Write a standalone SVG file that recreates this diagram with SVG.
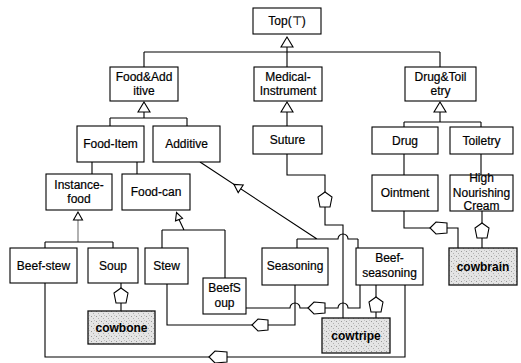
<svg xmlns="http://www.w3.org/2000/svg" width="521" height="363" viewBox="0 0 521 363">
<defs>
<pattern id="stip" width="5" height="5" patternUnits="userSpaceOnUse">
<rect width="5" height="5" fill="#e4e4e4"/>
<rect x="1" y="1" width="1" height="1" fill="#9a9a9a"/>
<rect x="3" y="3" width="1" height="1" fill="#b0b0b0"/>
<rect x="4" y="0" width="1" height="1" fill="#c4c4c4"/>
</pattern>
</defs>
<style>
.box{fill:#fff;stroke:#000;stroke-width:1.1}
.obj{fill:url(#stip);stroke:#111;stroke-width:1.3}
.t{font-family:"Liberation Sans",Arial,sans-serif;font-size:12px;fill:#000;stroke:#000;stroke-width:0.2;text-anchor:middle}
.tb{font-family:"Liberation Sans",Arial,sans-serif;font-size:12px;font-weight:bold;fill:#000;text-anchor:middle}
.ln{fill:none;stroke:#000;stroke-width:1.1}
.gl{fill:none;stroke:#888;stroke-width:1.3}
.tri{fill:#fff;stroke:#000;stroke-width:1.1}
.pen{fill:#fff;stroke:#000;stroke-width:1.1}
</style>
<rect width="521" height="363" fill="#fff"/>
<g id="connectors">
  <path class="ln" d="M287,47 V52 M144,52 H440 M144,52 V67 M287,52 V67 M440,52 V67"/>
  <path class="ln" d="M144,112 V118 M110,118 H187 M110,118 V126 M187,118 V126"/>
  <path class="ln" d="M287,112 V126"/>
  <path class="ln" d="M440,112 V122 M404,122 H481 M404,122 V127 M481,122 V127"/>
  <path class="ln" d="M92,162 V174 M137,162 V174"/>
  <path class="ln" d="M404,154 V175 M481,154 V175"/>
  <path class="gl" d="M78,220 V242"/>
  <path class="ln" d="M45,242 H113 M45,242 V248 M113,242 V248"/>
  <path class="ln" d="M179,219.5 L184,230 M162,230 H225 M162,230 V248 M225,230 V278"/>
  <path class="ln" d="M200,162 L317,239 M297,239 H338 A5,5 0 0 1 348,239 H358 M297,239 V248 M358,239 V248"/>
  <path class="ln" d="M287,154 V175 H325 V192 M325,207 V225 H343 V318"/>
  <path class="ln" d="M246,308 H290 A5,5 0 0 1 300,308 H308 M325,308 H338 A5,5 0 0 1 348,308 H360 V285"/>
  <path class="ln" d="M167,284 V325 H252 M268,325 H295 V285"/>
  <path class="ln" d="M376,285 V297 M376,312 V318"/>
  <path class="ln" d="M45,283 V357 H209 M227,357 H405 V285"/>
  <path class="ln" d="M121,283 V288 M121,303 V311"/>
  <path class="ln" d="M404,211 V228 H430 M447,228 H458 V248"/>
  <path class="ln" d="M482,211 V223 M482,238 V248"/>
  <polygon class="tri" points="287,37 281,47 293,47"/>
  <polygon class="tri" points="144,102 138,112 150,112"/>
  <polygon class="tri" points="287,102 281,112 293,112"/>
  <polygon class="tri" points="440,102 434,112 446,112"/>
  <polygon class="tri" points="78,212 73.5,220 82.5,220"/>
  <polygon class="tri" points="176.5,212.5 175.5,220.8 182.5,218.2"/>
  <polygon class="tri" points="234,184.4 238.2,192.6 243.2,185"/>
  <polygon class="pen" points="325,192 332,197 330,207 320,207 318,197"/>
  <polygon class="pen" points="121,288 128,293 126,303 116,303 114,293"/>
  <polygon class="pen" points="376,297 383,302 381,312 371,312 369,302"/>
  <polygon class="pen" points="482,223 489,228 487,238 477,238 475,228"/>
  <polygon class="pen" points="308,308 314,302 325,303 325,313 314,314"/>
  <polygon class="pen" points="252,325 258,319 268,320 268,330 258,331"/>
  <polygon class="pen" points="209,357 215,351 227,352 227,362 215,363"/>
  <polygon class="pen" points="430,228 436,222 447,223 447,233 436,234"/>
</g>
<g id="top"><rect class="box" x="253" y="8" width="68" height="26"/><text class="t" x="287" y="25">Top(⊤)</text></g>
<g id="food-additive"><rect class="box" x="110" y="67" width="68" height="34"/><text class="t" x="144" y="81">Food&amp;Add</text><text class="t" x="144" y="95">itive</text></g>
<g id="medical-instrument"><rect class="box" x="254" y="67" width="68" height="34"/><text class="t" x="288" y="81">Medical-</text><text class="t" x="288" y="95">Instrument</text></g>
<g id="drug-toiletry"><rect class="box" x="405" y="67" width="71" height="34"/><text class="t" x="440.5" y="81">Drug&amp;Toil</text><text class="t" x="440.5" y="95">etry</text></g>
<g id="food-item"><rect class="box" x="77" y="126" width="67" height="36"/><text class="t" x="110.5" y="148">Food-Item</text></g>
<g id="additive"><rect class="box" x="153" y="126" width="67" height="36"/><text class="t" x="186.5" y="148">Additive</text></g>
<g id="suture"><rect class="box" x="253" y="126" width="69" height="28"/><text class="t" x="287.5" y="144">Suture</text></g>
<g id="drug"><rect class="box" x="372" y="127" width="66" height="27"/><text class="t" x="405" y="145">Drug</text></g>
<g id="toiletry"><rect class="box" x="450" y="127" width="63" height="27"/><text class="t" x="481.5" y="145">Toiletry</text></g>
<g id="instance-food"><rect class="box" x="46" y="174" width="66" height="36"/><text class="t" x="79" y="189">Instance-</text><text class="t" x="79" y="203">food</text></g>
<g id="food-can"><rect class="box" x="122" y="174" width="68" height="36"/><text class="t" x="156" y="196">Food-can</text></g>
<g id="ointment"><rect class="box" x="372" y="175" width="66" height="36"/><text class="t" x="405" y="197">Ointment</text></g>
<g id="high-nourishing-cream"><rect class="box" x="450" y="175" width="63" height="36"/><text class="t" x="481.5" y="182">High</text><text class="t" x="481.5" y="197">Nourishing</text><text class="t" x="481.5" y="210">Cream</text></g>
<g id="beef-stew"><rect class="box" x="10" y="248" width="67" height="35"/><text class="t" x="43.5" y="270">Beef-stew</text></g>
<g id="soup"><rect class="box" x="88" y="248" width="50" height="35"/><text class="t" x="113" y="270">Soup</text></g>
<g id="stew"><rect class="box" x="145" y="248" width="43" height="36"/><text class="t" x="166.5" y="270">Stew</text></g>
<g id="seasoning"><rect class="box" x="262" y="248" width="66" height="37"/><text class="t" x="295" y="270">Seasoning</text></g>
<g id="beef-seasoning"><rect class="box" x="356" y="248" width="67" height="37"/><text class="t" x="389.5" y="262">Beef-</text><text class="t" x="389.5" y="277">seasoning</text></g>
<g id="beefsoup"><rect class="box" x="203" y="278" width="43" height="36"/><text class="t" x="224.5" y="292">BeefS</text><text class="t" x="224.5" y="307">oup</text></g>
<g id="cowbone"><rect class="obj" x="88" y="311" width="67" height="33"/><text class="tb" x="121.5" y="332">cowbone</text></g>
<g id="cowtripe"><rect class="obj" x="322" y="318" width="68" height="35"/><text class="tb" x="356" y="340">cowtripe</text></g>
<g id="cowbrain"><rect class="obj" x="449" y="248" width="68" height="37"/><text class="tb" x="483" y="271">cowbrain</text></g>
</svg>
